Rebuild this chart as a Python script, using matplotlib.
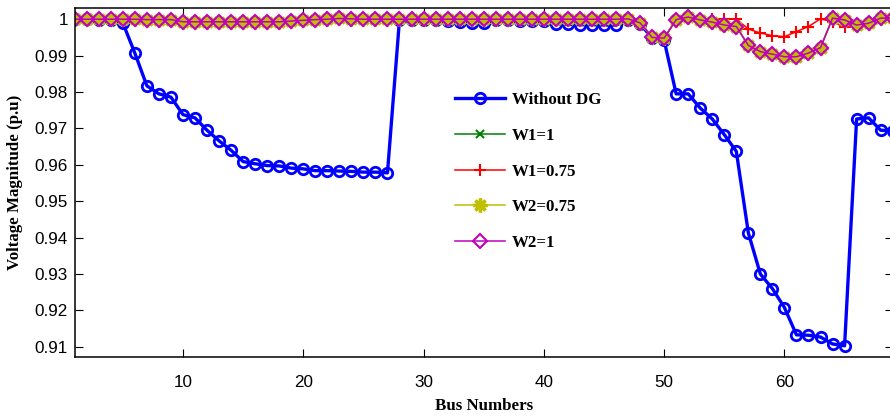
import matplotlib.pyplot as plt

# bus numbers of the 69-bus feeder
buses = list(range(1, 70))

# voltage magnitude (p.u)
v_without_dg = [
    1.0000, 1.0000, 0.9999, 0.9999, 0.9990, 0.9907, 0.9817, 0.9795, 0.9786, 0.9738,
    0.9729, 0.9695, 0.9666, 0.9640, 0.9609, 0.9603, 0.9598, 0.9597, 0.9591, 0.9589,
    0.9584, 0.9584, 0.9583, 0.9582, 0.9580, 0.9580, 0.9578, 0.9999, 0.9999, 0.9998,
    0.9997, 0.9996, 0.9993, 0.9990, 0.9989, 0.9999, 0.9998, 0.9996, 0.9996, 0.9995,
    0.9988, 0.9986, 0.9985, 0.9985, 0.9984, 0.9984, 0.9998, 0.9988, 0.9948, 0.9942,
    0.9795, 0.9795, 0.9756, 0.9726, 0.9683, 0.9637, 0.9413, 0.9300, 0.9260, 0.9208,
    0.9133, 0.9132, 0.9127, 0.9108, 0.9103, 0.9726, 0.9729, 0.9695, 0.9694,
]

v_w2_1 = [
    1.0000, 1.0000, 1.0000, 1.0000, 1.0000, 1.0000, 0.9999, 0.9999, 0.9999, 0.9993,
    0.9993, 0.9993, 0.9993, 0.9993, 0.9993, 0.9993, 0.9993, 0.9993, 0.9995, 0.9997,
    0.9999, 1.0000, 1.0002, 1.0001, 1.0000, 1.0000, 1.0000, 1.0000, 1.0000, 1.0000,
    1.0000, 1.0000, 1.0000, 1.0000, 1.0000, 1.0000, 1.0000, 1.0000, 1.0000, 1.0000,
    1.0000, 1.0000, 1.0000, 1.0000, 1.0000, 1.0000, 1.0001, 0.9990, 0.9950, 0.9948,
    0.9999, 1.0006, 0.9998, 0.9992, 0.9984, 0.9980, 0.9928, 0.9911, 0.9904, 0.9897,
    0.9897, 0.9907, 0.9922, 1.0003, 0.9998, 0.9984, 0.9989, 1.0003, 1.0003,
]

v_w1_075 = [
    1.0000, 1.0000, 1.0000, 1.0000, 1.0000, 1.0000, 0.9999, 0.9999, 0.9999, 0.9993,
    0.9993, 0.9993, 0.9993, 0.9993, 0.9993, 0.9993, 0.9993, 0.9993, 0.9995, 0.9997,
    0.9999, 1.0000, 1.0002, 1.0001, 1.0000, 1.0000, 1.0000, 1.0000, 1.0000, 1.0000,
    1.0000, 1.0000, 1.0000, 1.0000, 1.0000, 1.0000, 1.0000, 1.0000, 1.0000, 1.0000,
    1.0000, 1.0000, 1.0000, 1.0000, 1.0000, 1.0000, 1.0001, 0.9990, 0.9950, 0.9948,
    0.9999, 1.0003, 1.0000, 1.0000, 1.0000, 1.0001, 0.9973, 0.9962, 0.9955, 0.9952,
    0.9966, 0.9980, 1.0001, 0.9993, 0.9978, 0.9984, 0.9989, 1.0003, 1.0003,
]

# W1=1 and W2=0.75 sit on top of the W2=1 curve in the figure
v_w1_1 = list(v_w2_1)
v_w2_075 = list(v_w2_1)

labels = ['Without DG', 'W1=1', 'W1=0.75', 'W2=0.75', 'W2=1']

fig = plt.figure(figsize=(8.9, 4.17), dpi=100)
ax = fig.add_axes([74.7 / 890, 1 - 356.7 / 417, 818 / 890, 348.4 / 417])

ax.plot(buses, v_without_dg, color=(0, 0, 1), lw=2.4, marker='o', ms=7.5, mew=2,
        mfc='none', label=labels[0])
ax.plot(buses, v_w1_1, color=(0, 0.5, 0), lw=1.1, marker='x', ms=6, mew=1.5,
        label=labels[1])
ax.plot(buses, v_w1_075, color=(1, 0, 0), lw=1.1, marker='+', ms=9, mew=1.5,
        label=labels[2])
ax.plot(buses, v_w2_075, color=(0.75, 0.75, 0), lw=1.1, marker=(8, 2, 0), ms=10, mew=2.4,
        label=labels[3])
ax.plot(buses, v_w2_1, color=(0.75, 0, 0.75), lw=1.1, marker='D', ms=7, mew=1.5,
        mfc='none', label=labels[4])

ax.set_xlim(1, 69)
ax.set_ylim(0.9073, 1.003)
ax.set_xticks([10, 20, 30, 40, 50, 60])
yt = [0.91, 0.92, 0.93, 0.94, 0.95, 0.96, 0.97, 0.98, 0.99, 1.0]
ax.set_yticks(yt)
ax.set_yticklabels(['%g' % v for v in yt])

ax.tick_params(direction='in', top=True, right=True, length=6, width=0.8,
               labelsize=12.3, colors='black')
ax.tick_params(axis='x', pad=13)
ax.tick_params(axis='y', pad=5)
for lab in ax.get_xticklabels() + ax.get_yticklabels():
    lab.set_family('Liberation Sans')
for sp in ax.spines.values():
    sp.set_linewidth(1.1)

ax.set_xlabel('Bus Numbers', family='Liberation Serif', fontweight='bold', fontsize=12.2)
ax.set_ylabel('Voltage Magnitude (p.u)', family='Liberation Serif', fontweight='bold',
              fontsize=12.2)
ax.xaxis.set_label_coords(0.5, -0.118)
ax.yaxis.set_label_coords(-0.063, 0.5)

leg = ax.legend(loc='center left', bbox_to_anchor=(455 / 890, 1 - 171.5 / 417),
                bbox_transform=fig.transFigure, frameon=False, numpoints=1,
                borderpad=0, borderaxespad=0, labelspacing=1.17, handlelength=2.96,
                handletextpad=0.41,
                prop={'family': 'Liberation Serif', 'weight': 'bold', 'size': 12.2})

fig.savefig('out.png', dpi=100)
